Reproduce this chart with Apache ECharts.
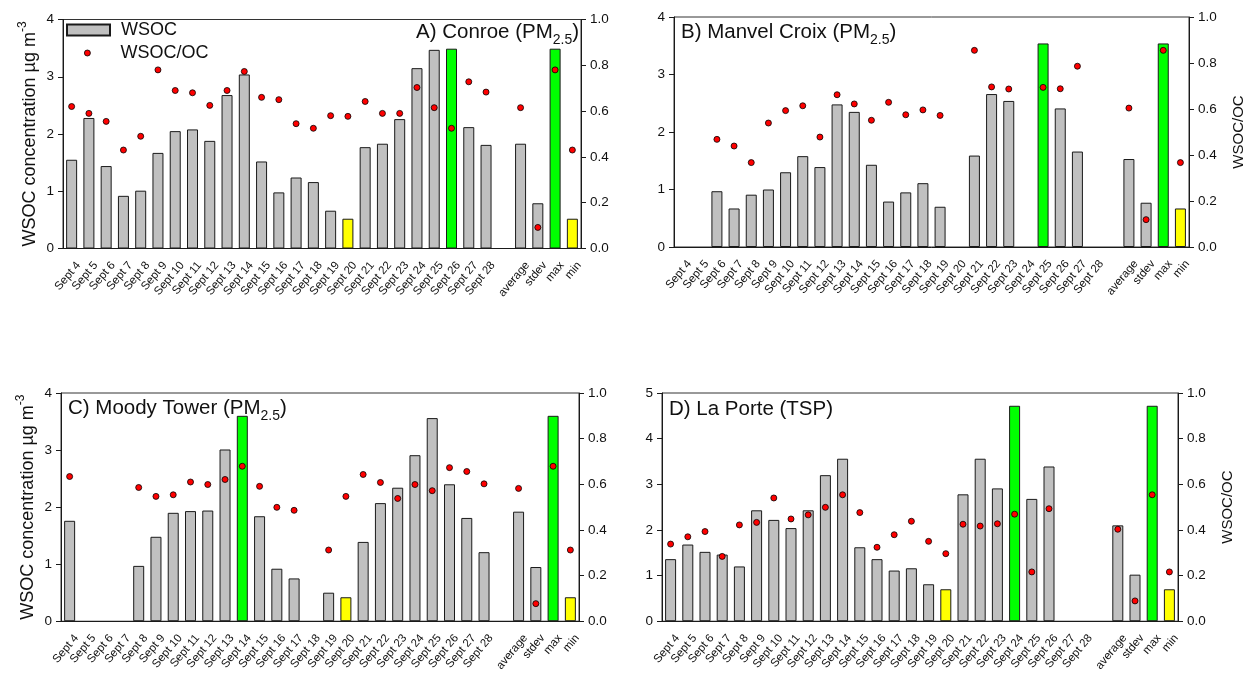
<!DOCTYPE html>
<html>
<head>
<meta charset="utf-8">
<script src="https://cdn.jsdelivr.net/npm/echarts@6/dist/echarts.min.js"></script>
<style>
  html, body { margin: 0; padding: 0; background: #fff; }
  #chart { width: 1247px; height: 674px; }
</style>
</head>
<body>
<div id="chart"></div>
<script>
// categories on the x axis (blank slot before the statistics)
var categories = ['Sept 4', 'Sept 5', 'Sept 6', 'Sept 7', 'Sept 8', 'Sept 9', 'Sept 10', 'Sept 11',
  'Sept 12', 'Sept 13', 'Sept 14', 'Sept 15', 'Sept 16', 'Sept 17', 'Sept 18', 'Sept 19', 'Sept 20',
  'Sept 21', 'Sept 22', 'Sept 23', 'Sept 24', 'Sept 25', 'Sept 26', 'Sept 27', 'Sept 28', '',
  'average', 'stdev', 'max', 'min'];

// A) Conroe
var wsocA = [1.55, 2.28, 1.44, 0.92, 1.01, 1.67, 2.05, 2.08, 1.88, 2.68, 3.04, 1.52, 0.98, 1.24, 1.16,
  0.66, 0.52, 1.77, 1.83, 2.26, 3.15, 3.47, 3.49, 2.12, 1.81, null, 1.83, 0.79, 3.49, 0.52];
var ratioA = [0.62, 0.59, 0.555, 0.43, 0.49, 0.78, 0.69, 0.68, 0.625, 0.69, 0.773, 0.66, 0.65, 0.545, 0.525,
  0.58, 0.577, 0.642, 0.59, 0.59, 0.703, 0.615, 0.525, 0.728, 0.683, null, 0.615, 0.092, 0.78, 0.43];

// B) Manvel Croix
var wsocB = [null, null, 0.97, 0.67, 0.91, 1.00, 1.30, 1.58, 1.39, 2.48, 2.35, 1.43, 0.79, 0.95, 1.11,
  0.70, null, 1.59, 2.66, 2.54, null, 3.54, 2.41, 1.66, null, null, 1.53, 0.77, 3.54, 0.67];
var ratioB = [null, null, 0.468, 0.439, 0.367, 0.539, 0.593, 0.614, 0.478, 0.662, 0.622, 0.551, 0.629, 0.575, 0.596,
  0.572, null, 0.855, 0.696, 0.687, null, 0.694, 0.688, 0.786, null, null, 0.604, 0.119, 0.855, 0.367];

// C) Moody Tower
var wsocC = [1.76, null, null, null, 0.97, 1.48, 1.90, 1.93, 1.94, 3.01, 3.60, 1.84, 0.92, 0.75, null,
  0.50, 0.42, 1.39, 2.07, 2.34, 2.91, 3.56, 2.40, 1.81, 1.21, null, 1.92, 0.95, 3.60, 0.42];
var ratioC = [0.634, null, null, null, 0.586, 0.547, 0.554, 0.61, 0.599, 0.621, 0.679, 0.591, 0.499, 0.486, null,
  0.312, 0.547, 0.643, 0.608, 0.538, 0.599, 0.572, 0.673, 0.656, 0.602, null, 0.582, 0.077, 0.679, 0.312];

// D) La Porte
var wsocD = [1.36, 1.68, 1.52, 1.46, 1.20, 2.43, 2.22, 2.04, 2.43, 3.20, 3.56, 1.62, 1.36, 1.11, 1.16,
  0.81, 0.70, 2.78, 3.56, 2.91, 4.72, 2.68, 3.39, null, null, null, 2.10, 1.02, 4.72, 0.70];
var ratioD = [0.338, 0.37, 0.393, 0.284, 0.422, 0.433, 0.54, 0.448, 0.466, 0.499, 0.554, 0.476, 0.324, 0.379, 0.438,
  0.35, 0.296, 0.425, 0.417, 0.427, 0.469, 0.216, 0.493, null, null, null, 0.403, 0.089, 0.554, 0.216];

// days that hold the max / min of each site
var maxDays = ['Sept 26', 'Sept 25', 'Sept 14', 'Sept 24'];
var minDays = ['Sept 20', null, 'Sept 20', 'Sept 20'];

var leftMax = [4, 4, 4, 5];

var FONT = '"Liberation Sans", Arial, sans-serif';
var AXIS = '#1a1a1a';

var myChart = echarts.init(document.getElementById('chart'));

// panel rectangles
var grids = [
  { left: 63, right: 666, top: 19.5, height: 229 },
  { left: 674, right: 55, top: 17, height: 230 },
  { left: 61, right: 668, top: 393, height: 229.5 },
  { left: 662, right: 69, top: 393, height: 229.5 }
];

var wsocAll = [wsocA, wsocB, wsocC, wsocD];
var ratioAll = [ratioA, ratioB, ratioC, ratioD];

var option = {
  animation: false,
  textStyle: { fontFamily: FONT },
  grid: [], xAxis: [], yAxis: [], series: [], title: [], legend: []
};

for (var p = 0; p < 4; p++) {
  var g = grids[p];
  option.grid.push({
    left: g.left, right: g.right, top: g.top, height: g.height,
    show: true, borderColor: '#333', borderWidth: 1, backgroundColor: 'transparent'
  });
  option.xAxis.push({
    type: 'category', gridIndex: p, data: categories,
    axisLine: { lineStyle: { color: AXIS, width: 1 } },
    axisTick: { alignWithLabel: true, length: 5, lineStyle: { color: AXIS } },
    // top-aligned rotated labels sit a bit right/down of the tick, like the original
    axisLabel: {
      interval: 0, rotate: 50, fontSize: 11.5, color: '#111', margin: 9, fontFamily: FONT,
      verticalAlign: 'top', padding: [3, 0, 0, 0]
    },
    splitLine: { show: false }
  });
  option.yAxis.push({
    type: 'value', gridIndex: p, position: 'left',
    min: 0, max: leftMax[p], interval: 1,
    axisLine: { show: true, lineStyle: { color: AXIS } },
    axisTick: { show: true, length: 5, lineStyle: { color: AXIS } },
    axisLabel: { fontSize: 13.5, color: '#111', margin: 9, fontFamily: FONT },
    splitLine: { show: false },
    name: (p % 2 === 0) ? '{a|WSOC concentration µg m}{s|-3}' : '',
    nameLocation: 'middle', nameRotate: 90, nameGap: 24,
    nameTextStyle: {
      rich: {
        a: { fontSize: 18, fontFamily: FONT, color: '#111', verticalAlign: 'bottom', lineHeight: 22 },
        s: { fontSize: 12, fontFamily: FONT, color: '#111', verticalAlign: 'top', lineHeight: 22 }
      }
    }
  });
  option.yAxis.push({
    type: 'value', gridIndex: p, position: 'right',
    min: 0, max: 1, interval: 0.2,
    axisLine: { show: true, lineStyle: { color: AXIS } },
    axisTick: { show: true, length: 5, lineStyle: { color: AXIS } },
    axisLabel: {
      fontSize: 13.5, color: '#111', margin: 9, fontFamily: FONT,
      formatter: function (v) { return v.toFixed(1); }
    },
    splitLine: { show: false },
    name: (p % 2 === 1) ? 'WSOC/OC' : '',
    nameLocation: 'middle', nameRotate: 90, nameGap: 42,
    nameTextStyle: { fontSize: 15, color: '#111', fontFamily: FONT }
  });

  var barData = wsocAll[p].map(function (v, k) {
    if (v === null) return '-';
    var c = '#c0c0c0';
    var cat = categories[k];
    if (cat === 'max' || cat === maxDays[p]) c = '#00ff00';
    if (cat === 'min' || cat === minDays[p]) c = '#ffff00';
    return { value: v, itemStyle: { color: c } };
  });
  option.series.push({
    type: 'bar', name: 'WSOC', xAxisIndex: p, yAxisIndex: 2 * p,
    data: barData, barWidth: 11,
    itemStyle: { color: '#c0c0c0', borderColor: '#1a1a1a', borderWidth: 1 },
    z: 2
  });
  option.series.push({
    type: 'scatter', name: 'WSOC/OC', xAxisIndex: p, yAxisIndex: 2 * p + 1,
    data: ratioAll[p].map(function (v) { return v === null ? '-' : v; }),
    symbol: 'circle', symbolSize: 6,
    itemStyle: { color: '#ff0000', borderColor: '#000', borderWidth: 0.8, opacity: 1 },
    z: 4
  });
}

// panel titles (regular weight, subscript 2.5)
var richTitle = {
  a: { fontSize: 20.5, fontWeight: 'normal', fontFamily: FONT, color: '#111', verticalAlign: 'top', lineHeight: 20 },
  s: { fontSize: 14, fontWeight: 'normal', fontFamily: FONT, color: '#111', verticalAlign: 'bottom', lineHeight: 25 }
};
option.title = [
  { text: '{a|A) Conroe (PM}{s|2.5}{a|)}', right: 668, top: 22, padding: 0, textStyle: { fontWeight: 'normal', rich: richTitle } },
  { text: '{a|B) Manvel Croix (PM}{s|2.5}{a|)}', left: 681, top: 22, padding: 0, textStyle: { fontWeight: 'normal', rich: richTitle } },
  { text: '{a|C) Moody Tower (PM}{s|2.5}{a|)}', left: 68, top: 398, padding: 0, textStyle: { fontWeight: 'normal', rich: richTitle } },
  { text: '{a|D) La Porte (TSP)}', left: 669, top: 399, padding: 0, textStyle: { fontWeight: 'normal', rich: richTitle } }
];

// legend in panel A
option.legend = [
  {
    data: ['WSOC'], left: 66, top: 21, icon: 'rect', itemWidth: 43, itemHeight: 11,
    padding: 0, textStyle: { fontSize: 18, color: '#111', fontFamily: FONT, padding: [0, 0, 0, 6] }
  },
  {
    data: ['WSOC/OC'], left: 84, top: 44, icon: 'circle', itemWidth: 6, itemHeight: 6,
    itemStyle: { color: '#ff0000', borderColor: '#000', borderWidth: 0.8 },
    padding: 0, textStyle: { fontSize: 18, color: '#111', fontFamily: FONT, padding: [0, 0, 0, 25] }
  }
];

myChart.setOption(option);
</script>
</body>
</html>
